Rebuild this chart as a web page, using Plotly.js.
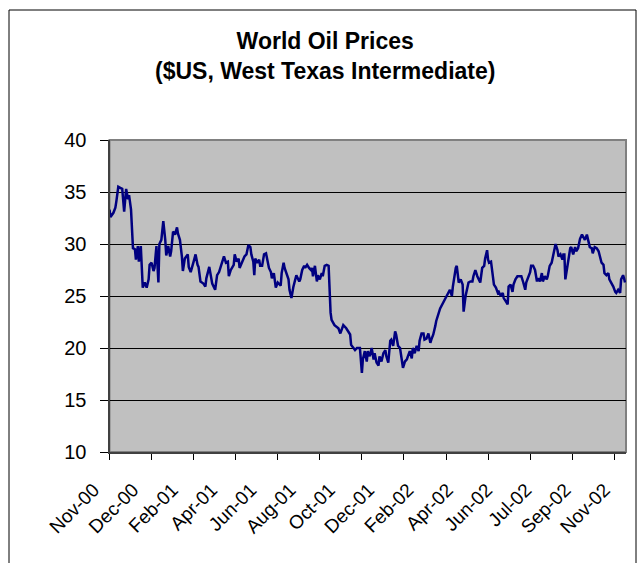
<!DOCTYPE html>
<html><head><meta charset="utf-8">
<script src="https://cdn.plot.ly/plotly-3.0.1.min.js"></script>
<style>html,body{margin:0;padding:0;background:#fff;}#chart{width:644px;height:563px;}</style>
</head><body><div id="chart"></div>
<script>
// trading-day category index and WTI price ($US)
const dayIndex = [0,1,4,6,7,9,11,13,15,17,19,20,22,23,24,26,27,29,30,32,34,36,38,40,41,43,45,46,48,50,51,53,55,57,58,60,62,63,65,67,69,70,72,74,75,77,80,81,83,86,88,90,91,93,96,98,99,102,103,105,108,110,112,114,116,117,119,121,122,124,127,128,130,132,133,135,137,138,140,142,144,145,147,148,149,151,153,154,156,158,160,161,163,165,166,168,170,172,175,176,178,179,181,183,184,186,188,190,191,194,195,197,199,200,202,204,206,207,208,210,212,213,215,217,218,220,222,224,225,226,227,230,234,236,239,242,246,247,251,253,256,258,259,261,263,264,266,268,270,271,273,275,276,278,280,282,283,285,287,288,290,292,293,295,297,299,300,302,304,305,307,309,310,312,314,316,317,319,321,322,324,326,328,329,331,333,334,338,341,345,348,350,351,354,355,357,359,361,362,364,366,367,369,371,372,374,376,378,379,381,383,384,386,387,388,390,392,393,395,397,398,400,402,403,405,407,408,410,412,413,415,417,418,421,423,425,426,428,430,431,433,435,437,438,440,442,443,445,447,448,450,452,454,455,456,458,459,461,463,464,465,466,467,469,471,472,474,476,477,479,481,483,484,486,488,489,491,493,494,496,498,500,501,503,505,506,508,510,511,513,515,517,518,520,522,523,525,526,527];
const price = [33.3,32.6,33.0,33.5,34.1,35.5,35.4,35.3,33.1,35.3,34.3,34.7,33.3,31.4,29.6,29.5,28.5,29.8,28.3,29.8,25.8,26.3,25.8,26.6,28.0,28.2,27.4,27.7,29.8,26.3,30.0,30.4,32.2,30.4,28.9,29.8,28.8,29.3,31.2,30.9,31.6,31.0,30.4,28.8,27.4,28.6,29.0,27.8,27.3,28.3,29.0,28.0,27.8,26.4,26.2,25.9,26.7,27.8,27.2,26.2,25.6,27.0,27.3,28.0,28.5,28.8,28.2,28.3,26.9,27.5,28.0,29.0,28.3,28.6,27.7,28.2,28.6,28.8,29.0,29.9,29.7,29.0,28.3,27.0,28.6,28.2,28.5,27.9,27.9,29.0,29.1,28.5,27.7,27.3,26.7,27.2,25.8,26.3,26.0,27.2,28.2,27.7,27.2,26.6,25.6,24.8,25.9,26.6,27.0,26.4,26.6,27.5,27.9,27.7,28.0,27.7,27.5,27.7,26.9,27.9,26.4,27.0,26.6,27.2,26.9,27.9,28.0,27.9,25.0,23.4,22.7,22.2,21.9,21.4,22.2,21.9,21.3,20.3,19.8,20.0,20.0,17.6,18.9,19.7,18.7,19.7,19.2,20.0,18.9,19.5,18.6,18.3,19.2,18.7,19.5,19.8,19.2,18.6,20.7,20.8,20.2,21.6,21.3,20.2,20.0,18.9,18.1,18.7,18.9,19.2,19.7,19.0,20.0,19.5,20.2,19.7,20.7,21.4,21.4,20.8,20.9,21.4,20.5,20.8,21.3,22.1,22.6,23.8,24.3,25.1,25.6,25.0,25.9,27.7,27.9,26.3,26.6,26.1,23.5,25.0,25.9,26.3,26.4,26.4,26.9,27.5,26.9,26.4,26.3,27.7,27.9,28.6,29.4,28.5,28.2,28.3,26.6,26.1,25.8,25.3,25.4,25.0,25.3,24.8,24.5,24.2,25.9,26.1,25.4,26.1,26.6,26.9,26.9,26.9,26.3,25.6,26.3,26.9,27.3,27.9,27.9,27.5,26.4,26.7,26.4,27.2,26.4,26.9,26.6,26.9,27.9,28.2,29.1,29.7,30.0,29.4,28.8,29.0,28.5,29.0,29.0,26.6,27.2,28.5,29.6,29.7,29.0,29.7,29.3,29.6,30.5,30.9,30.7,30.4,30.9,30.4,29.7,29.6,29.1,29.7,29.6,29.3,29.0,28.2,28.0,27.2,27.0,27.2,26.6,26.3,25.9,25.4,25.3,25.6,25.3,26.6,27.0,26.7,26.3];
const dateLabels = ['Nov-00','Dec-00','Feb-01','Apr-01','Jun-01','Aug-01','Oct-01','Dec-01','Feb-02','Apr-02','Jun-02','Jul-02','Sep-02','Nov-02'];
const yTicks = [10,15,20,25,30,35,40];
const yGrid = [15,20,25,30,35];

const nCategories = 528;
const tickStep = 43;
const labelStep = 40.16;
const labelOffset = -16;

// geometry
const W = 644, H = 563;
const mL = 40, mR = 18, mT = 140, mB = 111;
const paperW = W - mL - mR, paperH = H - mT - mB;
const plotLeftPx = 109.5;
const d0 = (plotLeftPx - mL) / paperW;
const unitsPerPx = nCategories / (paperW * (1 - d0));
const x2min = -(plotLeftPx - mL) * unitsPerPx;

const labelVals = dateLabels.map((_, j) => labelOffset + j * labelStep);

const font = 'Liberation Sans, Arial, sans-serif';

const traces = [
  {x: dayIndex, y: price, type: 'scatter', mode: 'lines',
   line: {color: '#000080', width: 2.5}, hoverinfo: 'skip', showlegend: false},
  {x: [], y: [], xaxis: 'x2', yaxis: 'y2', type: 'scatter', mode: 'lines', showlegend: false, hoverinfo: 'skip'},
  {x: [], y: [], xaxis: 'x', yaxis: 'y3', type: 'scatter', mode: 'lines', showlegend: false, hoverinfo: 'skip'}
];

const layout = {
  width: W, height: H,
  margin: {l: mL, r: mR, t: mT, b: mB, pad: 0},
  paper_bgcolor: '#ffffff',
  plot_bgcolor: 'rgba(0,0,0,0)',
  font: {family: font, color: '#000000'},
  title: {
    text: '<b>World Oil Prices</b><br><b>($US, West Texas Intermediate)</b>',
    font: {family: font, size: 23, color: '#000000'},
    x: 0.505, xref: 'container', xanchor: 'center',
    y: 1 - 49 / H, yref: 'container', yanchor: 'top'
  },
  xaxis: {
    domain: [d0, 1], range: [0, nCategories], anchor: 'y',
    tickmode: 'linear', tick0: 0, dtick: tickStep,
    ticks: 'outside', ticklen: 6, tickwidth: 1, tickcolor: '#000000',
    showticklabels: false, showgrid: false, zeroline: false,
    showline: true, linecolor: '#404040', linewidth: 2
  },
  xaxis2: {
    domain: [0, 1], range: [x2min, nCategories], anchor: 'y2',
    tickmode: 'array', tickvals: labelVals, ticktext: dateLabels,
    tickangle: -45, ticks: '', showgrid: false, zeroline: false, showline: false,
    tickfont: {family: font, size: 19, color: '#000000'},
    ticklabelstandoff: 22
  },
  yaxis: {
    domain: [0, 1], range: [10, 40], anchor: 'x',
    tickmode: 'array', tickvals: yTicks,
    ticks: 'outside', ticklen: 8, tickwidth: 1, tickcolor: '#000000',
    tickfont: {family: font, size: 20, color: '#000000'},
    ticklabelstandoff: 9,
    showgrid: false, zeroline: false,
    showline: true, linecolor: '#404040', linewidth: 2
  },
  yaxis2: {domain: [0, 0.0005], anchor: 'x2', visible: false, range: [0, 1]},
  yaxis3: {
    overlaying: 'y', range: [10, 40], anchor: 'x',
    tickmode: 'array', tickvals: yGrid, showticklabels: false, ticks: '',
    showgrid: true, gridcolor: '#000000', gridwidth: 1, zeroline: false, showline: false
  },
  shapes: [
    {type: 'rect', xref: 'x domain', yref: 'y domain', x0: 0, x1: 1, y0: 0, y1: 1,
     fillcolor: '#c0c0c0', line: {color: '#808080', width: 2}, layer: 'below'},
    {type: 'rect', xref: 'paper', yref: 'paper',
     x0: (9 - mL) / paperW, x1: (636 - mL) / paperW,
     y0: (mT + paperH - 620) / paperH, y1: (mT + paperH - 10) / paperH,
     fillcolor: 'rgba(0,0,0,0)', line: {color: '#000000', width: 1}, layer: 'below'}
  ]
};

Plotly.newPlot('chart', traces, layout, {staticPlot: true, displayModeBar: false});
</script>
</body></html>
